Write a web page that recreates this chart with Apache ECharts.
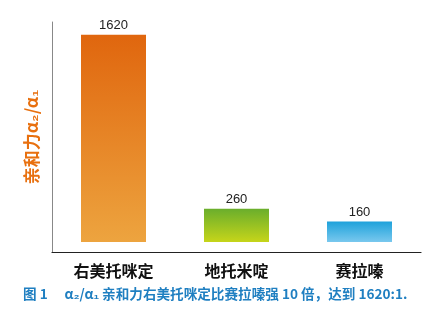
<!DOCTYPE html>
<html><head><meta charset="utf-8">
<script src="https://cdn.jsdelivr.net/npm/echarts@6/dist/echarts.min.js"></script>
<style>html,body{margin:0;padding:0;background:#fff}#c{width:443px;height:311px}</style>
</head><body><div id="c"></div>
<script>
var categories = ['右美托咪定', '地托米啶', '赛拉嗪'];
var values = [1620, 260, 160];
var gradients = [
  ['#e0660e', '#eda43f'],
  ['#6aae2c', '#c6d51a'],
  ['#1ea2db', '#79c8ee']
];
var axisName = '亲和力α₂/α₁';
var caption = '图 1　 α₂/α₁ 亲和力右美托咪定比赛拉嗪强 10 倍，达到 1620:1.';

var chart = echarts.init(document.getElementById('c'));
var font = '"Noto Sans CJK SC", "Liberation Sans", sans-serif';
chart.setOption({
  backgroundColor: '#fff',
  animation: false,
  grid: { left: 52, right: 22, top: 22, bottom: 59 },
  xAxis: {
    type: 'category', data: categories,
    axisLine: { onZero: false, lineStyle: { color: '#222', width: 1.2 } },
    axisTick: { show: false },
    axisLabel: { color: '#111', fontSize: 16, fontWeight: 'bold', margin: 11, fontFamily: font }
  },
  yAxis: {
    type: 'value', min: -78, max: 1720,
    splitLine: { show: false },
    axisLabel: { show: false },
    axisTick: { show: false },
    axisLine: { show: true, lineStyle: { color: '#888', width: 1 } },
    name: axisName, nameLocation: 'middle', nameRotate: 90, nameGap: 12,
    nameTextStyle: { color: '#e8700f', fontSize: 17, fontWeight: 'bold', fontFamily: font }
  },
  series: [{
    type: 'bar', barWidth: 65,
    data: values.map(function (v, i) {
      return {
        value: v,
        itemStyle: {
          color: new echarts.graphic.LinearGradient(0, 0, 0, 1, [
            { offset: 0, color: gradients[i][0] },
            { offset: 1, color: gradients[i][1] }
          ])
        }
      };
    }),
    label: { show: true, position: 'top', distance: 3, color: '#222', fontSize: 13, fontFamily: '"Liberation Sans", Arial, sans-serif' }
  }],
  graphic: [{
    type: 'text', left: 23, top: 287,
    style: { text: caption, fill: '#1f7fc1', font: 'bold 13.6px ' + font }
  }]
});
</script></body></html>
